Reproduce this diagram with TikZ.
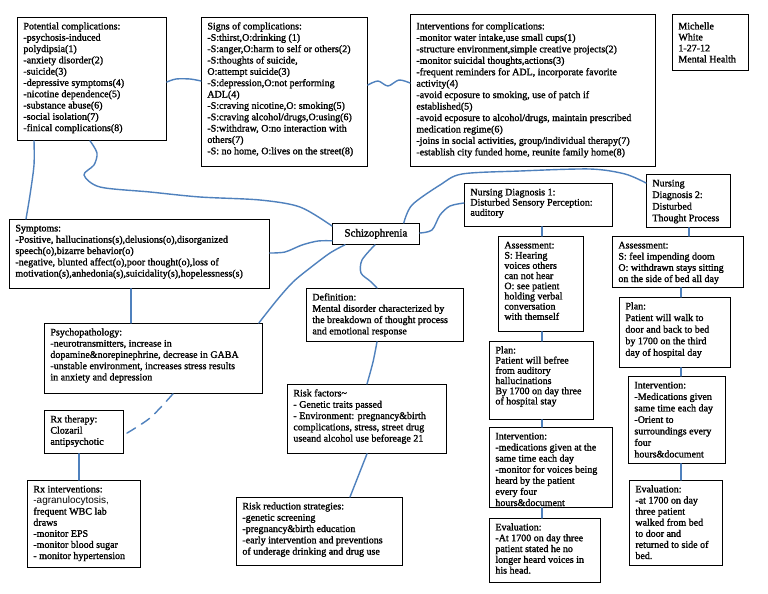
\documentclass[tikz,border=0pt]{standalone}
\usepackage{fontspec}
\setmainfont{Liberation Serif}[FakeBold=1.4]
\newfontfamily\sansf{Liberation Sans}
\definecolor{conn}{RGB}{79,129,189}
\def\toppad{9pt}
\newcommand{\mybox}[7][11.4]{%
  \node[bx] (#2) at (#3,#4) {\parbox[t][\dimexpr #6pt-6pt\relax][t]{\dimexpr #5pt-12pt\relax}{\fontsize{10}{#1}\selectfont\raggedright\rule{0pt}{\toppad}#7}};}
\begin{document}
\begin{tikzpicture}[x=1pt,y=-1pt,
  bx/.style={draw=black,line width=0.8pt,fill=white,anchor=north west,inner xsep=6pt,inner ysep=3pt},
  link/.style={draw=conn,line width=1.4pt,line cap=round,line join=round},
  dlink/.style={link,dash pattern=on 10pt off 7pt}]
\useasboundingbox (0,0) rectangle (768,594);
\fill[white] (0,0) rectangle (768,594);

\mybox[11.3]{pc}{17}{17}{149}{123}{Potential complications:\\-psychosis-induced\\polydipsia(1)\\-anxiety disorder(2)\\-suicide(3)\\-depressive symptoms(4)\\-nicotine dependence(5)\\-substance abuse(6)\\-social isolation(7)\\-finical complications(8)}
\mybox[11.35]{sg}{201}{17}{166}{149}{Signs of complications:\\-S:thirst,O:drinking (1)\\-S:anger,O:harm to self or others(2)\\-S:thoughts of suicide,\\O:attempt suicide(3)\\-S:depression,O:not performing\\ADL(4)\\-S:craving nicotine,O: smoking(5)\\-S:craving alcohol/drugs,O:using(6)\\-S:withdraw, O:no interaction with\\others(7)\\-S: no home, O:lives on the street(8)}
\def\toppad{12pt}
\mybox[11.45]{iv}{410}{14}{245}{152}{Interventions for complications:\\-monitor water intake,use small cups(1)\\-structure environment,simple creative projects(2)\\-monitor suicidal thoughts,actions(3)\\-frequent reminders for ADL, incorporate favorite\\activity(4)\\-avoid ecposure to smoking, use of patch if\\established(5)\\-avoid ecposure to alcohol/drugs, maintain prescribed\\medication regime(6)\\-joins in social activities, group/individual therapy(7)\\-establish city funded home, reunite family home(8)}
\mybox[11]{mw}{672}{14}{76}{56}{Michelle\\White\\1-27-12\\Mental Health}
\def\toppad{9pt}
\mybox[11.3]{sym}{9}{219}{260}{69}{Symptoms:\\-Positive, hallucinations(s),delusions(o),disorganized\\speech(o),bizarre behavior(o)\\-negative, blunted affect(o),poor thought(o),loss of\\motivation(s),anhedonia(s),suicidality(s),hopelessness(s)}
\node[draw=black,line width=0.8pt,fill=white,anchor=north west,minimum width=87pt,minimum height=21pt,inner sep=0pt,font=\fontsize{11}{13}\selectfont] (sch) at (332,223) {Schizophrenia};
\mybox[10.2]{nd1}{464}{183}{148}{43}{Nursing Diagnosis 1:\\Disturbed Sensory Perception:\\auditory}
\mybox[10.2]{a1}{498}{236}{85}{95}{Assessment:\\S: Hearing\\voices others\\can not hear\\O: see patient\\holding verbal\\conversation\\with themself}
\mybox[10.2]{p1}{489}{341}{104}{78}{Plan:\\Patient will befree\\from auditory\\hallucinations\\By 1700 on day three\\of hospital stay}
\mybox[11.1]{i1}{489}{427}{123}{80}{Intervention:\\-medications given at the\\same time each day\\-monitor for voices being\\heard by the patient\\every four\\hours\&document}
\mybox[10.8]{e1}{489}{518}{111}{64}{Evaluation:\\-At 1700 on day three\\patient stated he no\\longer heard voices in\\his head.}
\mybox[11.6]{nd2}{646}{174}{84}{53}{Nursing\\Diagnosis 2:\\Disturbed\\Thought Process}
\mybox[11.2]{a2}{612}{236}{131}{51}{Assessment:\\S: feel impending doom\\O: withdrawn stays sitting\\on the side of bed all day}
\mybox[11.6]{p2}{619}{297}{111}{70}{Plan:\\Patient will walk to\\door and back to bed\\by 1700 on the third\\day of hospital day}
\mybox[11.5]{i2}{628}{376}{97}{87}{Intervention:\\-Medications given\\same time each day\\-Orient to\\surroundings every\\four\\hours\&document}
\mybox[11.1]{e2}{629}{480}{93}{85}{Evaluation:\\-at 1700 on day\\three patient\\walked from bed\\to door and\\returned to side of\\bed.}
\mybox[11.25]{psy}{44}{323}{218}{70}{Psychopathology:\\-neurotransmitters, increase in\\dopamine\&norepinephrine, decrease in GABA\\-unstable environment, increases stress results\\in anxiety and depression}
\mybox[11.2]{rx}{44}{410}{79}{43}{Rx therapy:\\Clozaril\\antipsychotic}
\mybox[11.1]{rxi}{27}{480}{113}{87}{Rx interventions:\\{\sansf -agranulocytosis,}\\frequent WBC lab\\draws\\-monitor EPS\\-monitor blood sugar\\- monitor hypertension}
\mybox[11.3]{def}{306}{288}{157}{53}{Definition:\\Mental disorder characterized by\\the breakdown of thought process\\and emotional response}
\mybox[11.3]{rf}{287}{384}{159}{69}{Risk factors\textasciitilde\\- Genetic traits passed\\- Environment: pregnancy\&birth\\complications, stress, street drug\\useand alcohol use beforeage 21}
\mybox[11.3]{rr}{236}{497}{166}{68}{Risk reduction strategies:\\-genetic screening\\-pregnancy\&birth education\\-early intervention and preventions\\of underage drinking and drug use}

% connectors
\draw[link] plot[smooth] coordinates {([yshift=-65pt]pc.north east) (176,79) (190,79) ([yshift=-64pt]sg.north west)};
\draw[link] plot[smooth] coordinates {([yshift=-68pt]sg.north east) (378,81) (388,86) (399,80) ([yshift=-69pt]iv.north west)};
\draw[link] plot[smooth] coordinates {([xshift=17pt]pc.south west) (34,165) (30,195) ([xshift=17pt]sym.north west)};
\draw[link] plot[smooth] coordinates {([xshift=73pt]pc.south west) (97,153) (94,165) (84,175) (100,187) (150,192) (200,197) (260,200) (300,207) ([yshift=-3pt]sch.north west)};
\draw[link] plot[smooth] coordinates {([yshift=-34pt]sym.north east) (285,252) (302,245) (318,241) ([yshift=4pt]sch.south west)};
\draw[link] plot[smooth] coordinates {([xshift=-4pt]psy.north east) (277,300) (293,282) (310,268) (330,253) ([xshift=13pt]sch.south west)};
\draw[link] plot[smooth] coordinates {([xshift=43pt]sch.south west) (362,260) (361,273) (370,281) ([xshift=71pt]def.north west)};
\draw[link] plot[smooth] coordinates {([yshift=-10pt]sch.north east) (432,230) (440,215) (450,206) ([yshift=-20pt]nd1.north west)};
\draw[link] plot[smooth] coordinates {([xshift=-16pt]sch.north east) (412,205) (440,185) (462,174) (520,171) (590,169) (625,174) ([yshift=-9pt]nd2.north west)};
\draw[link] ([xshift=122pt]sym.south west) -- ([xshift=87pt]psy.north west);
\draw[dlink] plot[smooth] coordinates {([xshift=129pt]psy.south west) (150,418) ([yshift=-25pt]rx.north east)};
\draw[link] ([xshift=35pt]rx.south west) -- ([xshift=52pt]rxi.north west);
\draw[link] plot[smooth] coordinates {([xshift=71pt]def.south west) (373,362) ([xshift=80pt]rf.north west)};
\draw[link] ([xshift=80pt]rf.south west) -- ([xshift=114pt]rr.north west);
\draw[link] ([xshift=78pt]nd1.south west) -- ([xshift=44pt]a1.north west);
\draw[link] ([xshift=44pt]a1.south west) -- ([xshift=53pt]p1.north west);
\draw[link] ([xshift=53pt]p1.south west) -- ([xshift=53pt]i1.north west);
\draw[link] ([xshift=53pt]i1.south west) -- ([xshift=53pt]e1.north west);
\draw[link] ([xshift=43pt]nd2.south west) -- ([xshift=77pt]a2.north west);
\draw[link] ([xshift=69pt]a2.south west) -- ([xshift=62pt]p2.north west);
\draw[link] ([xshift=62pt]p2.south west) -- ([xshift=53pt]i2.north west);
\draw[link] ([xshift=53pt]i2.south west) -- ([xshift=52pt]e2.north west);
\end{tikzpicture}
\end{document}
